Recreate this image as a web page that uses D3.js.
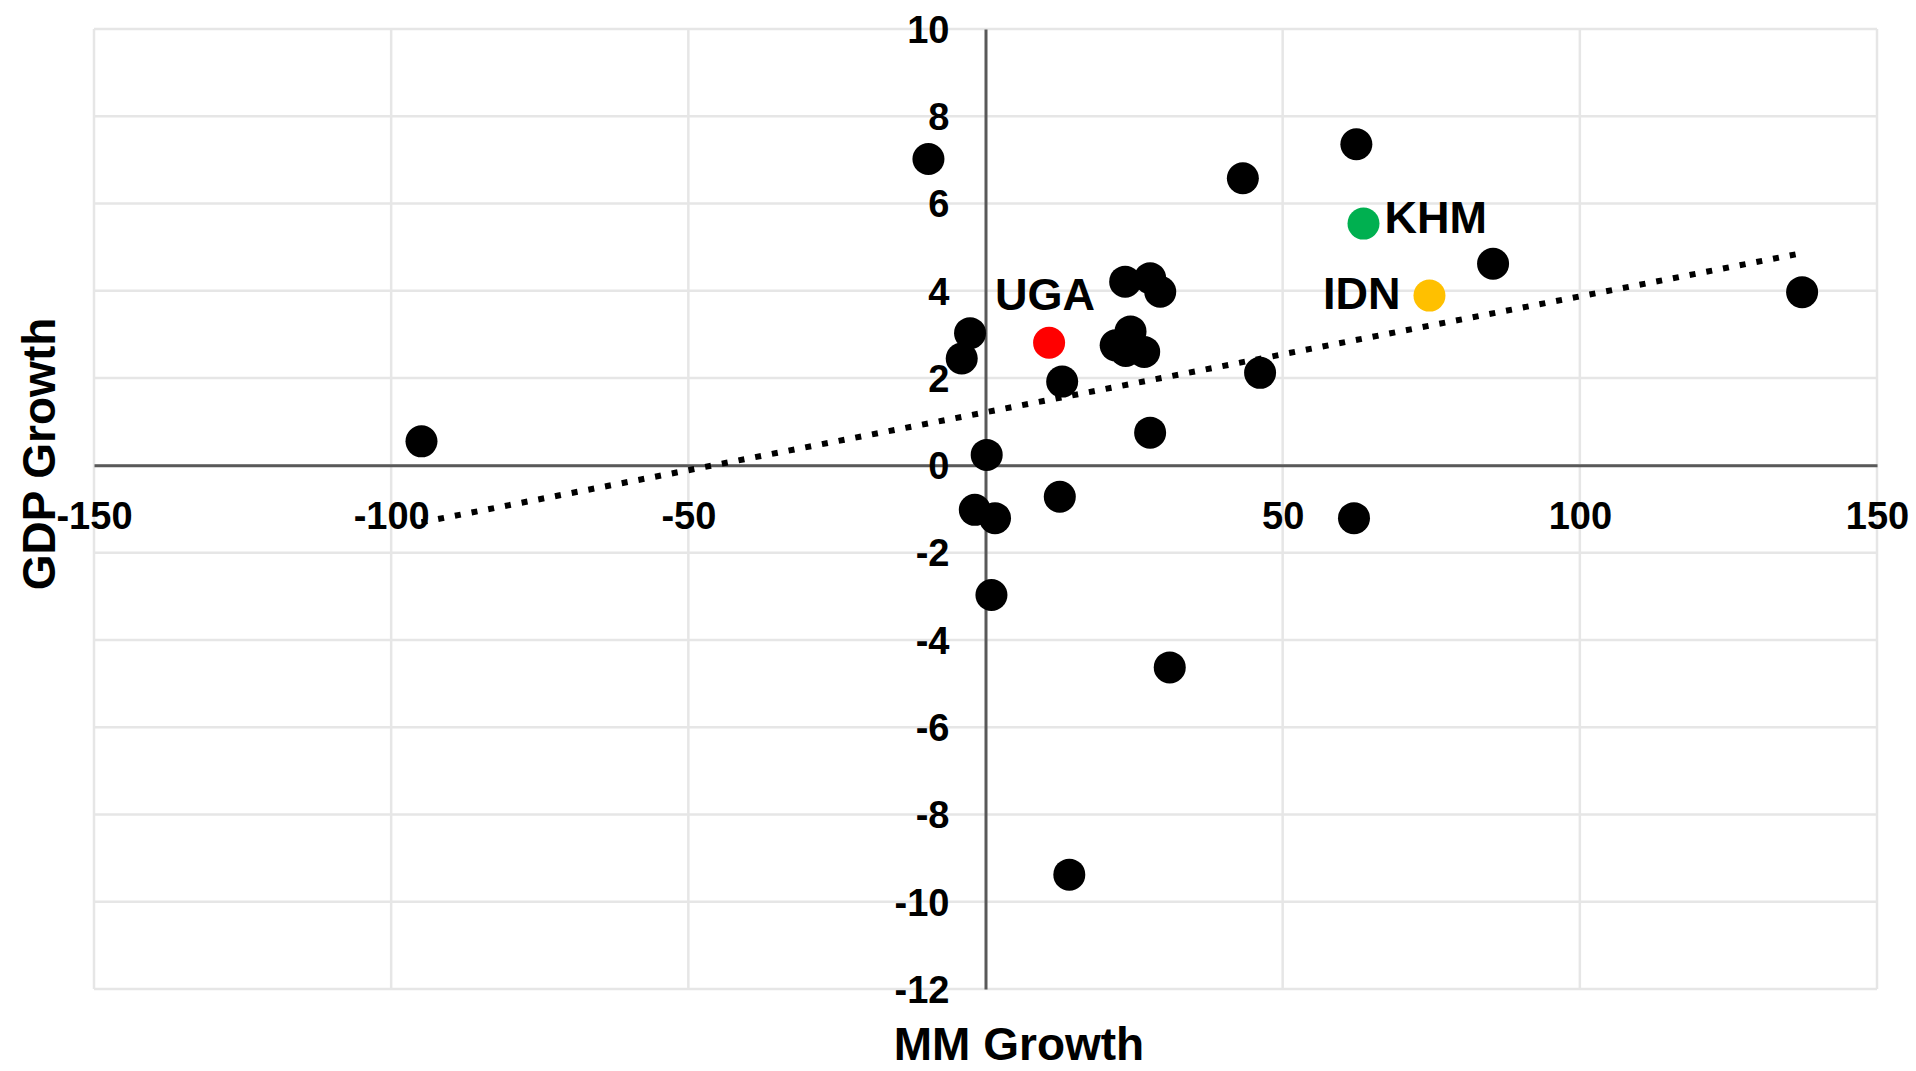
<!DOCTYPE html>
<html>
<head>
<meta charset="utf-8">
<script src="https://cdn.jsdelivr.net/npm/d3@7"></script>
<style>
  html, body { margin: 0; padding: 0; background: #ffffff; }
  svg { display: block; }
  text { font-family: "Liberation Sans", Arial, sans-serif; font-weight: bold; fill: #000; }
</style>
</head>
<body>
<svg id="chart" width="1916" height="1071"></svg>
<script>
// Mobile money growth vs GDP growth, one point per country
const mmGrowth  = [-94.9, -9.6, -2.6, -4.0, 0.2, -1.8, 1.6, 1.0, 10.7, 12.9, 12.5, 14.1,
                   23.5, 27.7, 29.4, 21.9, 24.4, 23.6, 26.7, 27.7, 31.0, 43.3, 46.2,
                   62.4, 63.6, 62.0, 74.7, 85.4, 137.4];
const gdpGrowth = [0.55, 7.02, 3.03, 2.45, 0.24, -1.02, -1.21, -2.97, 2.81, 1.92, -0.72, -9.38,
                   4.21, 4.29, 3.98, 2.75, 3.07, 2.62, 2.60, 0.75, -4.63, 6.58, 2.12,
                   7.36, 5.54, -1.21, 3.89, 4.62, 3.97];
const countryCode = ["", "", "", "", "", "", "", "", "UGA", "", "", "",
                     "", "", "", "", "", "", "", "", "", "", "",
                     "", "KHM", "", "IDN", "", ""];

const xTicks = [-150, -100, -50, 0, 50, 100, 150];
const xTickLabels = [-150, -100, -50, 50, 100, 150];
const yTicks = [-12, -10, -8, -6, -4, -2, 0, 2, 4, 6, 8, 10];

const xTitle = "MM Growth";
const yTitle = "GDP Growth";

// Highlighted countries: colour and label side
const highlightColor = { UGA: "#ff0000", KHM: "#00b050", IDN: "#ffc000" };
const labelSide = { UGA: "above", KHM: "right", IDN: "left" };

const svg = d3.select("#chart");
const x = d3.scaleLinear().domain([-150, 150]).range([94, 1877]);
const y = d3.scaleLinear().domain([-12, 10]).range([989, 29]);

const points = mmGrowth.map((v, i) => ({ mm: v, gdp: gdpGrowth[i], code: countryCode[i] }));

// Gridlines
const grid = svg.append("g");
grid.selectAll("line.h").data(yTicks).join("line")
  .attr("x1", x(-150)).attr("x2", x(150))
  .attr("y1", d => y(d)).attr("y2", d => y(d))
  .attr("stroke", "#e6e6e6").attr("stroke-width", 2.5);
grid.selectAll("line.v").data(xTicks.filter(d => d !== 0)).join("line")
  .attr("x1", d => x(d)).attr("x2", d => x(d))
  .attr("y1", y(10)).attr("y2", y(-12))
  .attr("stroke", "#e6e6e6").attr("stroke-width", 2.5);

// Axes crossing at the origin
const xAxis = d3.axisBottom(x).tickValues(xTickLabels).tickSize(0).tickPadding(0)
  .tickFormat(d => String(d));
const yAxis = d3.axisLeft(y).tickValues(yTicks).tickSize(0).tickPadding(36)
  .tickFormat(d => String(d));

const gx = svg.append("g").attr("transform", `translate(0,${y(0)})`).call(xAxis);
const gy = svg.append("g").attr("transform", `translate(${x(0)},0)`).call(yAxis);

[gx, gy].forEach(g => {
  g.select(".domain").attr("stroke", "#595959").attr("stroke-width", 3);
  g.selectAll(".tick text")
    .attr("fill", "#000")
    .style("font-size", "38px")
    .style("font-weight", "bold")
    .style("font-family", "\"Liberation Sans\", Arial, sans-serif");
});
gx.selectAll(".tick text").attr("y", 50).attr("dy", "0.35em");
gy.selectAll(".tick text").attr("dy", "0.35em");

// Least-squares trendline over the x range of the data
const mx = d3.mean(mmGrowth), my = d3.mean(gdpGrowth);
const sxy = d3.sum(points, p => (p.mm - mx) * (p.gdp - my));
const sxx = d3.sum(points, p => (p.mm - mx) ** 2);
const slope = sxy / sxx, intercept = my - slope * mx;
const [xMin, xMax] = d3.extent(mmGrowth);
const trend = [xMin, xMax].map(v => [v, intercept + slope * v]);

// Points
const dots = svg.append("g");
dots.selectAll("circle.base").data(points.filter(p => !p.code)).join("circle")
  .attr("cx", d => x(d.mm)).attr("cy", d => y(d.gdp)).attr("r", 16)
  .attr("fill", "#000");

svg.append("path")
  .datum(trend)
  .attr("d", d3.line().x(d => x(d[0])).y(d => y(d[1])))
  .attr("fill", "none").attr("stroke", "#000")
  .attr("stroke-width", 6).attr("stroke-dasharray", "6 11");

const hl = points.filter(p => p.code);
svg.append("g").selectAll("circle").data(hl).join("circle")
  .attr("cx", d => x(d.mm)).attr("cy", d => y(d.gdp)).attr("r", 16)
  .attr("fill", d => highlightColor[d.code]);

// Country labels
svg.append("g").selectAll("text").data(hl).join("text")
  .style("font-size", "45px")
  .attr("x", d => {
    const side = labelSide[d.code];
    if (side === "right") return x(d.mm) + 21;
    if (side === "left") return x(d.mm) - 29;
    return x(d.mm) - 4;
  })
  .attr("y", d => labelSide[d.code] === "above" ? y(d.gdp) - 33 : y(d.gdp))
  .attr("dy", d => {
    const side = labelSide[d.code];
    return side === "above" ? 0 : side === "right" ? "0.2em" : "0.3em";
  })
  .attr("text-anchor", d => {
    const side = labelSide[d.code];
    return side === "right" ? "start" : side === "left" ? "end" : "middle";
  })
  .text(d => d.code);

// Axis titles
svg.append("text")
  .attr("x", 1019).attr("y", 1060)
  .attr("text-anchor", "middle")
  .style("font-size", "46px")
  .text(xTitle);

svg.append("text")
  .attr("transform", "translate(55,454) rotate(-90)")
  .attr("text-anchor", "middle")
  .style("font-size", "46px")
  .text(yTitle);
</script>
</body>
</html>
